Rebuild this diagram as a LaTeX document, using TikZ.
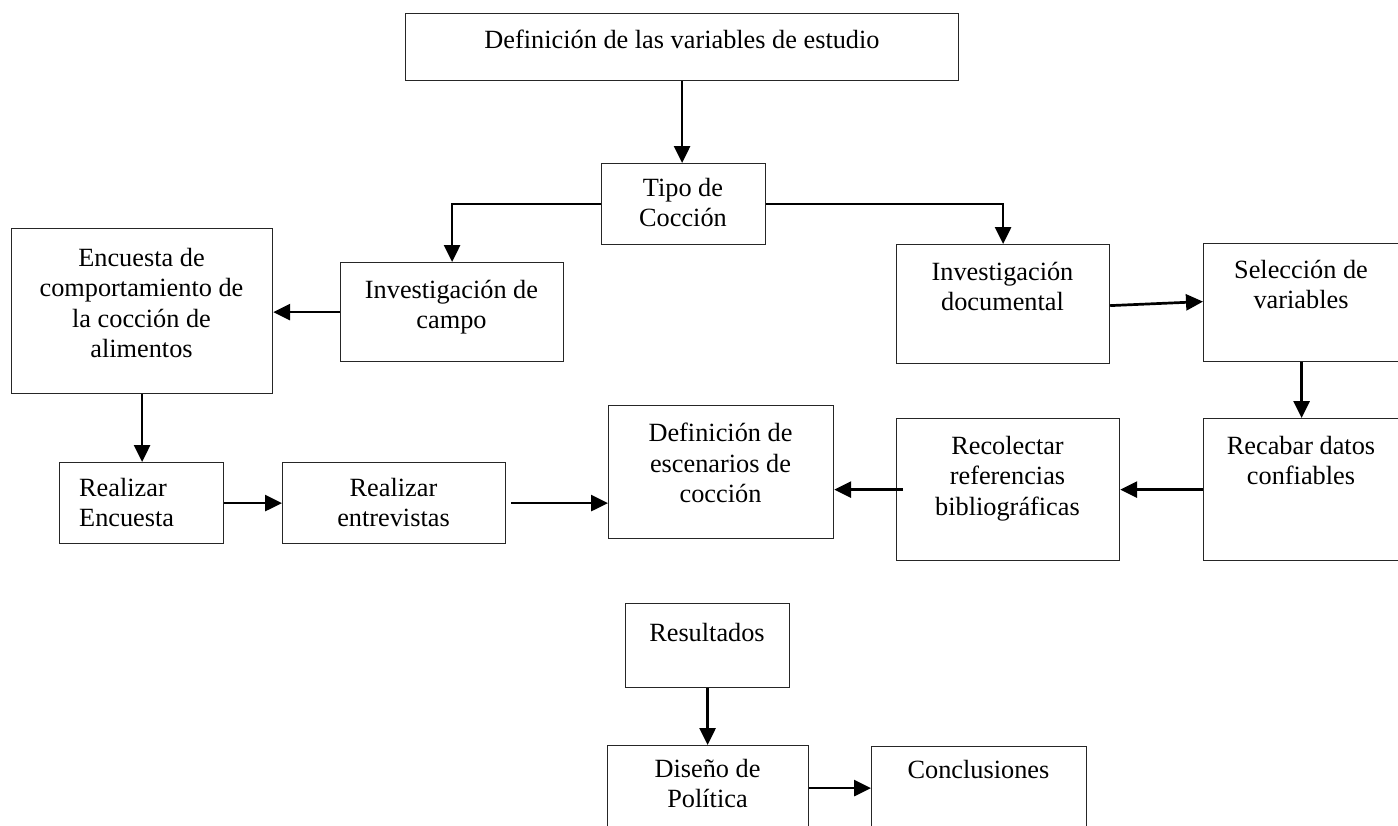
\documentclass[tikz,border=0pt]{standalone}
\usepackage{fontspec}
\setmainfont{Liberation Serif}
\usetikzlibrary{arrows.meta,calc}
\begin{document}
\begin{tikzpicture}[x=1pt,y=-1pt,
 box/.style={draw=black!85,line width=1.2pt,inner sep=0pt,anchor=north west},
 txt/.style={inner sep=0pt,anchor=north,align=center,font=\fontsize{26.3}{30.4}\selectfont},
 arr/.style={draw=black,line width=2.7pt,-{Triangle[length=17pt,width=16pt]}}]
\useasboundingbox (0,0) rectangle (1398,825);
\clip (0,0) rectangle (1398,825);
\fill[white] (0,0) rectangle (1398,825);
% boxes
\node[box,minimum width=553pt,minimum height=67pt] (b1) at (405,13) {};
\node[box,minimum width=164pt,minimum height=81pt] (tipo) at (601,163) {};
\node[box,minimum width=261pt,minimum height=165pt] (enc) at (11,228) {};
\node[box,minimum width=223pt,minimum height=99pt] (campo) at (340,262) {};
\node[box,minimum width=213pt,minimum height=119pt] (doc) at (896,244) {};
\node[box,minimum width=196pt,minimum height=118pt] (sel) at (1203,243) {};
\node[box,minimum width=196pt,minimum height=142pt] (recab) at (1203,418) {};
\node[box,minimum width=223pt,minimum height=142pt] (recol) at (896,418) {};
\node[box,minimum width=225pt,minimum height=133pt] (esc) at (608,405) {};
\node[box,minimum width=164pt,minimum height=81pt] (re) at (59,462) {};
\node[box,minimum width=223pt,minimum height=81pt] (ent) at (282,462) {};
\node[box,minimum width=164pt,minimum height=84pt] (res) at (625,603) {};
\node[box,minimum width=201pt,minimum height=85pt] (dis) at (607,745) {};
\node[box,minimum width=215pt,minimum height=84pt] (con) at (871,746) {};
% texts
\node[txt] (t1) at (682,30) {Definición de las variables de estudio};
\node[txt] (t2) at (683,178) {Tipo de\\Cocción};
\node[txt] (t3) at (141.5,248) {Encuesta de\\comportamiento de\\la cocción de\\alimentos};
\node[txt] (t4) at (451.5,280) {Investigación de\\campo};
\node[txt] (t5) at (1002.5,262) {Investigación\\documental};
\node[txt] (t6) at (1301,260) {Selección de\\variables};
\node[txt] (t7) at (1301,436) {Recabar datos\\confiables};
\node[txt] (t8) at (1007.5,436) {Recolectar\\referencias\\bibliográficas};
\node[txt] (t9) at (720.5,423) {Definición de\\escenarios de\\cocción};
\node[txt,anchor=north west,align=left] (t10) at (79,478) {Realizar\\Encuesta};
\node[txt] (t11) at (393.5,478) {Realizar\\entrevistas};
\node[txt] (t12) at (707,623) {Resultados};
\node[txt] (t13) at (707.5,759) {Diseño de\\Política};
\node[txt] (t14) at (978.5,760) {Conclusiones};
% connectors
\draw[arr] (b1.south) -- (b1.south |- tipo.north);
\draw[arr] (tipo.west) -| (campo.north);
\draw[arr] (tipo.east) -| (doc.north);
\draw[arr] (campo.west) -- (campo.west -| enc.east);
\draw[arr] (enc.south) -- (enc.south |- re.north);
\draw[arr] (re.east) -- (re.east -| ent.west);
\draw[arr] ([xshift=5pt]ent.east) -- (ent.east -| esc.west);
\draw[arr] ([yshift=-1.5pt]doc.east) -- ([yshift=1pt]sel.west);
\draw[arr] (sel.south) -- (sel.south |- recab.north);
\draw[arr] (recab.west) -- (recab.west -| recol.east);
\draw[arr] ([xshift=7pt]recol.west) -- (recol.west -| esc.east);
\draw[arr] (res.south) -- (res.south |- dis.north);
\draw[arr] (dis.east) -- (dis.east -| con.west);
\end{tikzpicture}
\end{document}
